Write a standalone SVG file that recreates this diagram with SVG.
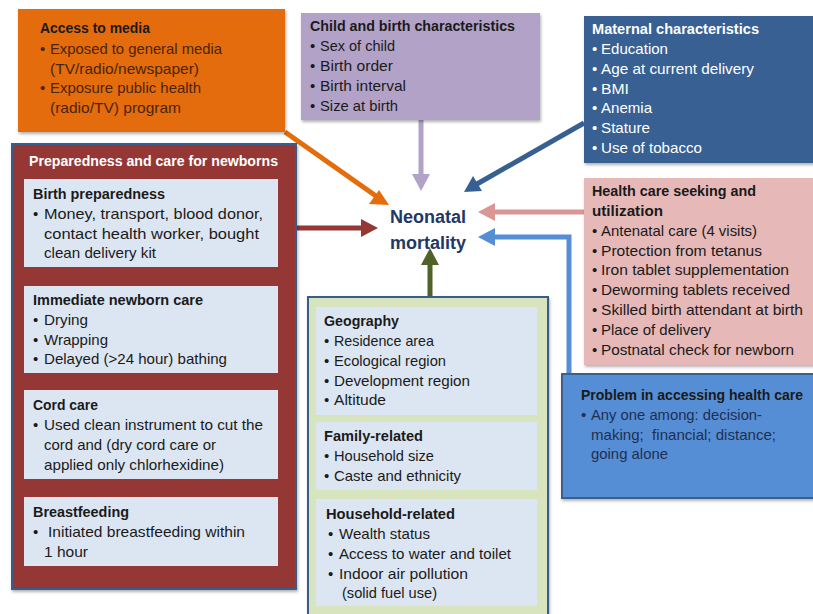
<svg xmlns="http://www.w3.org/2000/svg" width="813" height="614" viewBox="0 0 813 614">
<defs>
<style>
text{font-family:"Liberation Sans","Noto Sans",Arial,sans-serif;font-size:15px;fill:#1a1a1a;white-space:pre}
.t{font-weight:bold;font-size:14.5px}
.w{fill:#ffffff}
.br{fill:#4a2406}
.nv{fill:#1f2f52}
.sub{fill:#dce6f2}
.nm{font-size:18px;font-weight:bold;fill:#1f3864;text-anchor:middle}
.ar{fill:none;stroke-width:5}
</style>
<filter id="sh" x="-5%" y="-5%" width="110%" height="115%">
<feDropShadow dx="1" dy="2" stdDeviation="1.5" flood-color="#000" flood-opacity="0.3"/>
</filter>
</defs>
<rect width="813" height="614" fill="#ffffff"/>

<g id="connectors">
<path class="ar" stroke="#e46c0a" d="M285,132 L376,196"/>
<polygon fill="#e46c0a" points="389,205 369,204 379,190"/>
<path class="ar" stroke="#b3a2c7" d="M421,120 L421,176"/>
<polygon fill="#b3a2c7" points="421,191 412,174 430,174"/>
<path class="ar" stroke="#376092" d="M584,123 L477,184"/>
<polygon fill="#376092" points="464,192 473,176 482,191"/>
<path class="ar" stroke="#d99694" d="M584,212 L493,212"/>
<polygon fill="#d99694" points="478,212 495,203 495,221"/>
<path class="ar" stroke="#558ed5" d="M569,374 L569,237 L493,237"/>
<polygon fill="#558ed5" points="478,237 495,228 495,246"/>
<path class="ar" stroke="#953735" d="M296,228 L362,228"/>
<polygon fill="#953735" points="378,228 361,219 361,237"/>
<path class="ar" stroke="#4f6228" d="M430,297 L430,263"/>
<polygon fill="#4f6228" points="430,248 421,265 439,265"/>
</g>

<g id="outcome">
<text class="nm" x="428" y="223">Neonatal</text>
<text class="nm" x="428" y="249">mortality</text>
</g>

<g id="media">
<rect x="18" y="9" width="267" height="123" fill="#e46c0a" filter="url(#sh)"/>
<text class="t" x="40" y="33" textLength="110" lengthAdjust="spacingAndGlyphs">Access to media</text>
<text class="br" x="40" y="54">•</text><text class="br" x="50" y="54" textLength="172" lengthAdjust="spacingAndGlyphs">Exposed to general media</text>
<text class="br" x="50" y="74" textLength="149" lengthAdjust="spacingAndGlyphs">(TV/radio/newspaper)</text>
<text class="br" x="40" y="93">•</text><text class="br" x="50" y="93" textLength="151" lengthAdjust="spacingAndGlyphs">Exposure public health</text>
<text class="br" x="50" y="113" textLength="131" lengthAdjust="spacingAndGlyphs">(radio/TV) program</text>
</g>

<g id="child">
<rect x="301" y="13" width="239" height="107" fill="#b3a2c7" filter="url(#sh)"/>
<text class="t" x="310" y="31" textLength="205" lengthAdjust="spacingAndGlyphs">Child and birth characteristics</text>
<text x="310" y="51">•</text><text x="320" y="51" textLength="75" lengthAdjust="spacingAndGlyphs">Sex of child</text>
<text x="310" y="71">•</text><text x="320" y="71" textLength="73" lengthAdjust="spacingAndGlyphs">Birth order</text>
<text x="310" y="91">•</text><text x="320" y="91" textLength="86" lengthAdjust="spacingAndGlyphs">Birth interval</text>
<text x="310" y="111">•</text><text x="320" y="111" textLength="78" lengthAdjust="spacingAndGlyphs">Size at birth</text>
</g>

<g id="maternal">
<rect x="584" y="16" width="232" height="147" fill="#376092" filter="url(#sh)"/>
<text class="t w" x="592" y="34" textLength="167" lengthAdjust="spacingAndGlyphs">Maternal characteristics</text>
<text class="w" x="592" y="54">•</text><text class="w" x="601" y="54" textLength="67" lengthAdjust="spacingAndGlyphs">Education</text>
<text class="w" x="592" y="74">•</text><text class="w" x="601" y="74" textLength="153" lengthAdjust="spacingAndGlyphs">Age at current delivery</text>
<text class="w" x="592" y="94">•</text><text class="w" x="601" y="94" textLength="28" lengthAdjust="spacingAndGlyphs">BMI</text>
<text class="w" x="592" y="113">•</text><text class="w" x="601" y="113" textLength="51" lengthAdjust="spacingAndGlyphs">Anemia</text>
<text class="w" x="592" y="133">•</text><text class="w" x="601" y="133" textLength="49" lengthAdjust="spacingAndGlyphs">Stature</text>
<text class="w" x="592" y="153">•</text><text class="w" x="601" y="153" textLength="101" lengthAdjust="spacingAndGlyphs">Use of tobacco</text>
</g>

<g id="healthcare">
<rect x="584" y="178" width="232" height="187" fill="#e6b9b8" filter="url(#sh)"/>
<text class="t" x="592" y="196" textLength="164" lengthAdjust="spacingAndGlyphs">Health care seeking and</text>
<text class="t" x="592" y="216" textLength="71" lengthAdjust="spacingAndGlyphs">utilization</text>
<text x="592" y="236">•</text><text x="601" y="236" textLength="156" lengthAdjust="spacingAndGlyphs">Antenatal care (4 visits)</text>
<text x="592" y="256">•</text><text x="601" y="256" textLength="161" lengthAdjust="spacingAndGlyphs">Protection from tetanus</text>
<text x="592" y="275">•</text><text x="601" y="275" textLength="188" lengthAdjust="spacingAndGlyphs">Iron tablet supplementation</text>
<text x="592" y="295">•</text><text x="601" y="295" textLength="189" lengthAdjust="spacingAndGlyphs">Deworming tablets received</text>
<text x="592" y="315">•</text><text x="601" y="315" textLength="202" lengthAdjust="spacingAndGlyphs">Skilled birth attendant at birth</text>
<text x="592" y="335">•</text><text x="601" y="335" textLength="110" lengthAdjust="spacingAndGlyphs">Place of delivery</text>
<text x="592" y="355">•</text><text x="601" y="355" textLength="193" lengthAdjust="spacingAndGlyphs">Postnatal check for newborn</text>
</g>

<g id="problem">
<rect x="562" y="374" width="254" height="124" fill="#558ed5" stroke="#3a5f8b" stroke-width="2" filter="url(#sh)"/>
<text class="t" x="581" y="400" textLength="222" lengthAdjust="spacingAndGlyphs">Problem in accessing health care</text>
<text class="nv" x="581" y="420">•</text><text class="nv" x="591" y="420" textLength="171" lengthAdjust="spacingAndGlyphs">Any one among: decision-</text>
<text class="nv" x="591" y="440" textLength="185" lengthAdjust="spacingAndGlyphs">making;  financial; distance;</text>
<text class="nv" x="591" y="459" textLength="77" lengthAdjust="spacingAndGlyphs">going alone</text>
</g>

<g id="newborn">
<rect x="12" y="144" width="284" height="445" fill="#953735" stroke="#385d8a" stroke-width="2" filter="url(#sh)"/>
<text class="t w" x="29" y="166" textLength="249" lengthAdjust="spacingAndGlyphs">Preparedness and care for newborns</text>
<g id="birthprep">
<rect class="sub" x="24" y="179" width="254" height="88"/>
<text class="t" x="33" y="199" textLength="132" lengthAdjust="spacingAndGlyphs">Birth preparedness</text>
<text x="33" y="219">•</text><text x="44" y="219" textLength="219" lengthAdjust="spacingAndGlyphs">Money, transport, blood donor,</text>
<text x="44" y="239" textLength="215" lengthAdjust="spacingAndGlyphs">contact health worker, bought</text>
<text x="44" y="258" textLength="112" lengthAdjust="spacingAndGlyphs">clean delivery kit</text>
</g>
<g id="immediate">
<rect class="sub" x="24" y="286" width="254" height="87"/>
<text class="t" x="33" y="305" textLength="170" lengthAdjust="spacingAndGlyphs">Immediate newborn care</text>
<text x="33" y="325">•</text><text x="44" y="325" textLength="44" lengthAdjust="spacingAndGlyphs">Drying</text>
<text x="33" y="345">•</text><text x="44" y="345" textLength="64" lengthAdjust="spacingAndGlyphs">Wrapping</text>
<text x="33" y="364">•</text><text x="44" y="364" textLength="183" lengthAdjust="spacingAndGlyphs">Delayed (&gt;24 hour) bathing</text>
</g>
<g id="cord">
<rect class="sub" x="24" y="390" width="254" height="89"/>
<text class="t" x="33" y="410" textLength="65" lengthAdjust="spacingAndGlyphs">Cord care</text>
<text x="33" y="430">•</text><text x="44" y="430" textLength="219" lengthAdjust="spacingAndGlyphs">Used clean instrument to cut the</text>
<text x="44" y="450" textLength="172" lengthAdjust="spacingAndGlyphs">cord and (dry cord care or</text>
<text x="44" y="470" textLength="180" lengthAdjust="spacingAndGlyphs">applied only chlorhexidine)</text>
</g>
<g id="breast">
<rect class="sub" x="24" y="497" width="254" height="69"/>
<text class="t" x="33" y="517" textLength="96" lengthAdjust="spacingAndGlyphs">Breastfeeding</text>
<text x="33" y="537">•</text><text x="48" y="537" textLength="197" lengthAdjust="spacingAndGlyphs">Initiated breastfeeding within</text>
<text x="44" y="557" textLength="44" lengthAdjust="spacingAndGlyphs">1 hour</text>
</g>
</g>

<g id="context">
<rect x="308" y="297" width="240" height="320" fill="#d7e4bd" stroke="#385d8a" stroke-width="2" filter="url(#sh)"/>
<g id="geography">
<rect class="sub" x="316" y="307" width="221" height="108"/>
<text class="t" x="324" y="326" textLength="75" lengthAdjust="spacingAndGlyphs">Geography</text>
<text x="324" y="346">•</text><text x="334" y="346" textLength="100" lengthAdjust="spacingAndGlyphs">Residence area</text>
<text x="324" y="366">•</text><text x="334" y="366" textLength="112" lengthAdjust="spacingAndGlyphs">Ecological region</text>
<text x="324" y="386">•</text><text x="334" y="386" textLength="136" lengthAdjust="spacingAndGlyphs">Development region</text>
<text x="324" y="405">•</text><text x="334" y="405" textLength="52" lengthAdjust="spacingAndGlyphs">Altitude</text>
</g>
<g id="family">
<rect class="sub" x="316" y="422" width="221" height="68"/>
<text class="t" x="324" y="441" textLength="99" lengthAdjust="spacingAndGlyphs">Family-related</text>
<text x="324" y="461">•</text><text x="334" y="461" textLength="100" lengthAdjust="spacingAndGlyphs">Household size</text>
<text x="324" y="481">•</text><text x="334" y="481" textLength="127" lengthAdjust="spacingAndGlyphs">Caste and ethnicity</text>
</g>
<g id="household">
<rect class="sub" x="316" y="499" width="221" height="107"/>
<text class="t" x="326" y="519" textLength="129" lengthAdjust="spacingAndGlyphs">Household-related</text>
<text x="328" y="539">•</text><text x="339" y="539" textLength="91" lengthAdjust="spacingAndGlyphs">Wealth status</text>
<text x="328" y="559">•</text><text x="339" y="559" textLength="172" lengthAdjust="spacingAndGlyphs">Access to water and toilet</text>
<text x="328" y="579">•</text><text x="339" y="579" textLength="129" lengthAdjust="spacingAndGlyphs">Indoor air pollution</text>
<text x="342" y="598" textLength="95" lengthAdjust="spacingAndGlyphs">(solid fuel use)</text>
</g>
</g>
</svg>
